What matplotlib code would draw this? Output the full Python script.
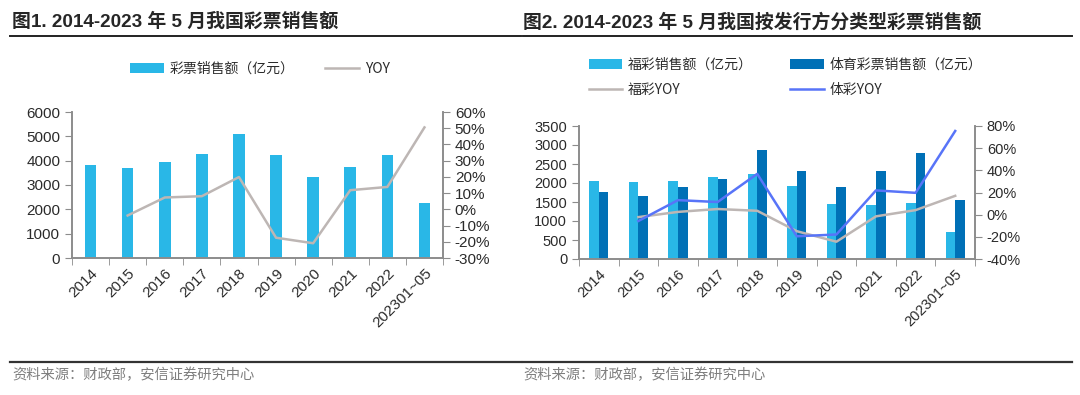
import matplotlib
matplotlib.use("Agg")
import matplotlib.pyplot as plt
from matplotlib.lines import Line2D
from matplotlib.ticker import FuncFormatter
import numpy as np

plt.rcParams['font.family'] = ['Liberation Sans', 'Noto Sans CJK SC', 'DejaVu Sans']
plt.rcParams['axes.unicode_minus'] = True

years = ['2014', '2015', '2016', '2017', '2018', '2019', '2020', '2021', '2022', '202301~05']

# fig 1: total lottery sales (亿元) and yoy (%)
total_sales = [3823, 3679, 3947, 4267, 5115, 4221, 3340, 3733, 4247, 2250]
total_yoy = [np.nan, -3.8, 7.3, 8.1, 19.9, -17.5, -20.9, 11.8, 13.8, 50.5]

# fig 2: welfare vs sports lottery
welfare_sales = [2060, 2015, 2065, 2170, 2246, 1912, 1445, 1423, 1481, 720]
sports_sales = [1764, 1664, 1882, 2097, 2869, 2309, 1895, 2311, 2780, 1545]
welfare_yoy = [np.nan, -2.2, 2.5, 5.1, 3.5, -14.9, -24.4, -1.5, 4.1, 17.0]
sports_yoy = [np.nan, -5.7, 13.1, 11.4, 36.8, -19.5, -17.9, 21.9, 19.7, 75.5]

LIGHT = '#29B7E7'
DARK = '#0070B6'
GRAY = '#BDB6B4'
BLUE = '#5874F8'
TXT = '#2B2B2B'
SPINE = '#8C8C8C'
CJK = ['Noto Sans CJK SC', 'DejaVu Sans']

fig = plt.figure(figsize=(10.8, 3.95), dpi=100)
W, H = 1080, 395


def fx(px):
    return px / W


def fy(py):
    return 1 - py / H


def style_axes(ax, ax2, fs):
    x = np.arange(len(years))
    ax.set_xlim(-0.5, len(years) - 0.5)
    ax.set_xticks(x)
    ax.set_xticklabels(years, rotation=45, ha='right', rotation_mode='anchor', fontsize=fs, color=TXT)
    ax.set_xticks(np.arange(-0.5, len(years)), minor=True)
    ax.tick_params(axis='x', which='major', length=0, pad=6)
    ax.tick_params(axis='x', which='minor', length=5, color=SPINE, direction='out')
    ax.tick_params(axis='y', length=5, color=SPINE, labelsize=fs, labelcolor=TXT)
    ax2.tick_params(axis='y', length=5, color=SPINE, labelsize=fs, labelcolor=TXT)
    for a in (ax, ax2):
        a.spines['top'].set_visible(False)
        for s in ('left', 'right', 'bottom'):
            a.spines[s].set_color(SPINE)
            a.spines[s].set_linewidth(1.2)
    ax.patch.set_visible(False)
    ax2.yaxis.set_major_formatter(FuncFormatter(lambda v, p: '%d%%' % v))


# ---------- chart 1 ----------
ax1 = fig.add_axes([fx(72), fy(258), fx(443 - 72), (258 - 112) / H])
ax1b = ax1.twinx()
x = np.arange(len(years))
ax1.bar(x, total_sales, width=0.31, color=LIGHT, label='彩票销售额（亿元）', zorder=2)
ax1b.plot(x, total_yoy, color=GRAY, lw=1.8, label='YOY')
ax1.set_ylim(0, 6000)
ax1.set_yticks(range(0, 6001, 1000))
ax1b.set_ylim(-30, 60)
ax1b.set_yticks(range(-30, 61, 10))
style_axes(ax1, ax1b, 11)
ax1.set_zorder(ax1b.get_zorder() - 1)
ax1b.patch.set_visible(False)

h1, l1 = ax1.get_legend_handles_labels()
h2, l2 = ax1b.get_legend_handles_labels()
fig.legend(h1 + h2, l1 + l2, loc='center', bbox_to_anchor=(fx(260), fy(69)), ncol=2,
           frameon=False, prop={'family': CJK, 'size': 10}, handlelength=2.4,
           handletextpad=0.45, columnspacing=2.2, labelcolor=TXT)

# ---------- chart 2 ----------
ax2 = fig.add_axes([fx(579), fy(259), fx(975 - 579), (259 - 126) / H])
ax2b = ax2.twinx()
bw = 0.24
ax2.bar(x - bw / 2, welfare_sales, width=bw, color=LIGHT, label='福彩销售额（亿元）', zorder=2)
ax2.bar(x + bw / 2, sports_sales, width=bw, color=DARK, label='体育彩票销售额（亿元）', zorder=2)
ax2b.plot(x, welfare_yoy, color=GRAY, lw=1.8, label='福彩YOY')
ax2b.plot(x, sports_yoy, color=BLUE, lw=1.8, label='体彩YOY')
ax2.set_ylim(0, 3500)
ax2.set_yticks(range(0, 3501, 500))
ax2b.set_ylim(-40, 80)
ax2b.set_yticks(range(-40, 81, 20))
style_axes(ax2, ax2b, 10.5)
ax2.set_zorder(ax2b.get_zorder() - 1)
ax2b.patch.set_visible(False)

h1, l1 = ax2.get_legend_handles_labels()
h2, l2 = ax2b.get_legend_handles_labels()
fig.legend([h1[0], h2[0], h1[1], h2[1]], [l1[0], l2[0], l1[1], l2[1]], loc='upper left',
           bbox_to_anchor=(fx(576), fy(45)), ncol=2, frameon=False,
           prop={'family': CJK, 'size': 10}, handlelength=2.4, handletextpad=0.45,
           columnspacing=2.7, labelspacing=0.85, labelcolor=TXT)

# ---------- titles, rules, sources ----------
fig.text(fx(12), fy(22), '图1. 2014-2023 年 5 月我国彩票销售额', fontsize=13.6, fontweight='bold',
         color='#262626', va='center', ha='left')
fig.text(fx(523), fy(22), '图2. 2014-2023 年 5 月我国按发行方分类型彩票销售额', fontsize=13.6,
         fontweight='bold', color='#262626', va='center', ha='left')
for x0, x1 in ((fx(10), fx(521)), (fx(523), fx(1072))):
    fig.add_artist(Line2D([x0, x1], [fy(36), fy(36)], color='#222222', lw=1.4))
    fig.add_artist(Line2D([x0, x1], [fy(362), fy(362)], color='#333333', lw=1.6))
src = '资料来源：财政部，安信证券研究中心'
for xs in (12, 523):
    fig.text(fx(xs), fy(375), src, fontsize=10.3, style='italic', color='#7F7F7F',
             va='center', ha='left', family=CJK)

fig.savefig('out.png', dpi=100)
